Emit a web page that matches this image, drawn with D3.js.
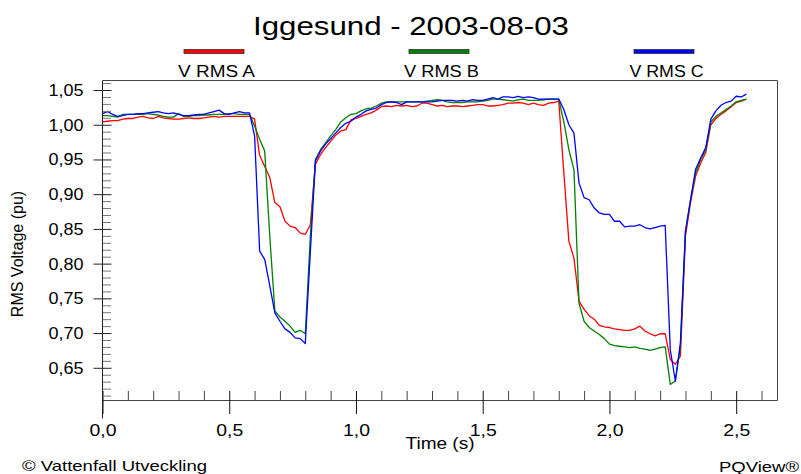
<!DOCTYPE html>
<html><head><meta charset="utf-8">
<script src="https://cdn.jsdelivr.net/npm/d3@7"></script>
<style>
body{margin:0;background:#fff}
svg{display:block}
text{font-family:"Liberation Sans",Arial,Helvetica,sans-serif;fill:#000}
</style>
</head><body>
<svg id="c" width="801" height="474"></svg>
<script>
// ---- data ----
const titleText = "Iggesund - 2003-08-03";
const xLabel = "Time (s)";
const yLabel = "RMS Voltage (pu)";
const seriesNames = ["V RMS A", "V RMS B", "V RMS C"];
const seriesColors = ["#ff0000", "#008000", "#0000ff"];
const xTicks = [0, 0.5, 1.0, 1.5, 2.0, 2.5];
const xTickLabels = ["0,0", "0,5", "1,0", "1,5", "2,0", "2,5"];
const yTicks = [0.65, 0.70, 0.75, 0.80, 0.85, 0.90, 0.95, 1.00, 1.05];
const yTickLabels = ["0,65", "0,70", "0,75", "0,80", "0,85", "0,90", "0,95", "1,00", "1,05"];
const xMinor = [0.1,0.2,0.3,0.4,0.6,0.7,0.8,0.9,1.1,1.2,1.3,1.4,1.6,1.7,1.8,1.9,2.1,2.2,2.3,2.4,2.6];
const yMinor = [0.61,0.62,0.63,0.64,0.66,0.67,0.68,0.69,0.71,0.72,0.73,0.74,0.76,0.77,0.78,0.79,0.81,0.82,0.83,0.84,0.86,0.87,0.88,0.89,0.91,0.92,0.93,0.94,0.96,0.97,0.98,0.99,1.01,1.02,1.03,1.04,1.06];

const times = [0.00,0.02,0.04,0.06,0.08,0.10,0.12,0.14,0.16,0.18,0.20,0.22,0.24,0.26,0.28,0.30,0.32,0.34,0.36,0.38,0.40,0.42,0.44,0.46,0.48,0.50,0.52,0.54,0.56,
0.58,0.60,0.62,0.64,0.66,0.68,0.70,0.72,0.74,0.76,0.78,0.80,0.82,0.84,
0.86,0.88,0.90,0.92,0.94,0.96,0.98,1.00,1.02,1.04,1.06,1.08,1.10,1.12,1.14,1.16,
1.18,1.20,1.22,1.24,1.26,1.28,1.30,1.32,1.34,1.36,1.38,1.40,1.42,1.44,1.46,1.48,1.50,1.52,1.54,1.56,1.58,1.60,1.62,1.64,1.66,1.68,1.70,1.72,1.74,1.76,1.78,
1.80,1.82,1.84,1.86,1.88,1.90,1.92,1.94,1.96,1.98,2.00,2.02,2.04,2.06,2.08,2.10,2.12,2.14,2.16,2.18,2.20,2.22,2.24,2.26,2.28,2.30,2.32,2.34,2.36,2.38,2.40,2.42,2.44,2.46,2.48,2.50,2.52,2.54];

const vA = [1.004,1.005,1.006,1.006,1.008,1.009,1.009,1.011,1.012,1.010,1.009,1.012,1.010,1.009,1.008,1.008,1.009,1.010,1.009,1.009,1.010,1.011,1.012,1.011,1.012,1.012,1.012,1.012,1.012,
1.012,1.008,0.956,0.940,0.924,0.888,0.882,0.861,0.854,0.852,0.844,0.842,0.856,0.943,
0.957,0.967,0.976,0.985,0.991,0.993,1.007,1.009,1.012,1.015,1.017,1.021,1.026,1.027,1.026,1.028,
1.027,1.028,1.026,1.027,1.031,1.031,1.029,1.027,1.028,1.026,1.027,1.027,1.026,1.027,1.028,1.029,1.029,1.027,1.027,1.028,1.029,1.031,1.031,1.032,1.031,1.029,1.031,1.029,1.028,1.031,1.032,
1.034,0.931,0.832,0.808,0.746,0.734,0.725,0.720,0.711,0.709,0.708,0.706,0.705,0.704,0.704,0.706,0.710,0.703,0.699,0.696,0.699,0.699,0.662,0.655,0.667,0.840,0.888,0.926,0.945,0.960,1.000,1.009,1.015,1.020,1.026,1.032,1.034,1.037];

const vB = [1.013,1.013,1.012,1.011,1.015,1.015,1.015,1.015,1.015,1.016,1.015,1.014,1.012,1.011,1.011,1.016,1.012,1.012,1.013,1.013,1.014,1.014,1.015,1.015,1.015,1.016,1.016,1.015,1.015,
1.015,0.998,0.979,0.962,0.839,0.732,0.723,0.717,0.710,0.701,0.704,0.699,0.840,0.950,
0.964,0.974,0.984,0.993,1.004,1.010,1.015,1.016,1.020,1.023,1.024,1.027,1.031,1.033,1.033,1.033,
1.033,1.033,1.033,1.033,1.033,1.034,1.035,1.036,1.035,1.033,1.032,1.032,1.032,1.033,1.033,1.033,1.034,1.035,1.037,1.037,1.036,1.035,1.034,1.036,1.037,1.035,1.035,1.035,1.036,1.037,1.037,
1.037,1.004,0.964,0.935,0.743,0.717,0.708,0.703,0.698,0.692,0.684,0.682,0.681,0.680,0.679,0.680,0.678,0.677,0.675,0.677,0.679,0.680,0.626,0.631,0.681,0.847,0.892,0.931,0.950,0.964,1.004,1.012,1.017,1.022,1.027,1.033,1.035,1.037];

const vC = [1.016,1.019,1.015,1.012,1.013,1.015,1.015,1.016,1.016,1.017,1.018,1.019,1.017,1.016,1.017,1.015,1.013,1.013,1.014,1.015,1.015,1.017,1.019,1.021,1.016,1.015,1.017,1.019,1.017,
1.017,0.984,0.818,0.806,0.768,0.729,0.717,0.706,0.701,0.693,0.692,0.685,0.817,0.948,
0.962,0.972,0.980,0.988,0.996,1.002,1.005,1.011,1.015,1.020,1.022,1.024,1.029,1.032,1.033,1.032,
1.029,1.033,1.033,1.033,1.033,1.033,1.033,1.034,1.035,1.035,1.035,1.034,1.035,1.034,1.036,1.035,1.035,1.037,1.039,1.037,1.040,1.040,1.039,1.041,1.039,1.040,1.039,1.037,1.037,1.037,1.037,
1.037,1.022,1.000,0.988,0.916,0.895,0.892,0.880,0.873,0.871,0.871,0.861,0.861,0.853,0.854,0.854,0.856,0.852,0.850,0.852,0.854,0.855,0.676,0.631,0.686,0.847,0.892,0.936,0.952,0.967,1.008,1.020,1.028,1.032,1.034,1.041,1.040,1.044];

const seriesValues = [vA, vB, vC];

// ---- drawing ----
const svg = d3.select("#c");
const L = 102.5, R = 777.5, T = 80.5, B = 400.5;
const x = d3.scaleLinear().domain([0, 2.663]).range([L, R]);
const y = d3.scaleLinear().domain([0.6029, 1.0637]).range([B, T]);

function txt(g, px, py, s, size, anchor, width) {
  const t = g.append("text").attr("x", px).attr("y", py).attr("font-size", size)
    .attr("text-anchor", anchor).text(s);
  if (width) t.attr("textLength", width).attr("lengthAdjust", "spacingAndGlyphs");
  return t;
}

// title
txt(svg, 411, 35, titleText, 26, "middle", 316);

// legend
const legendCenters = [214, 439, 664];
const legendTextW = [77, 75, 74];
seriesNames.forEach((n, i) => {
  const cx = legendCenters[i];
  svg.append("rect").attr("x", cx - 30).attr("y", 49.5).attr("width", 60).attr("height", 4)
    .attr("fill", seriesColors[i]).attr("stroke", "#333").attr("stroke-width", 0.8);
  txt(svg, cx + 2.5, 76.5, n, 16, "middle", legendTextW[i]);
});

// lines
const plot = svg.append("g");
seriesValues.forEach((vals, i) => {
  const pts = times.map((t, j) => [t, vals[j]]);
  plot.append("path").datum(pts)
    .attr("fill", "none").attr("stroke", seriesColors[i]).attr("stroke-width", 1.3)
    .attr("stroke-linejoin", "round")
    .attr("d", d3.line().x(d => x(d[0])).y(d => y(d[1])));
});

// frame (top & right)
svg.append("path").attr("d", `M${L},${T}H${R}V${B}`).attr("fill", "none")
  .attr("stroke", "#444").attr("stroke-width", 1);

// x axis minor
const gxm = svg.append("g").attr("transform", `translate(0,${B})`)
  .call(d3.axisBottom(x).tickValues(xMinor).tickSize(-9.5).tickFormat(""));
gxm.select(".domain").remove();
gxm.selectAll("line").attr("stroke", "#444");

// x axis major
const gx = svg.append("g").attr("transform", `translate(0,${B})`)
  .call(d3.axisBottom(x).tickValues(xTicks).tickFormat((d, i) => xTickLabels[i]));
gx.select(".domain").attr("d", `M${L},0H${R}`).attr("stroke", "#444");
gx.selectAll(".tick line").attr("y1", -9.5).attr("y2", 13.5).attr("stroke", "#111");
gx.selectAll(".tick text").attr("y", 35.5).attr("dy", null).attr("font-size", 16)
  .attr("font-family", null).attr("textLength", 27).attr("lengthAdjust", "spacingAndGlyphs");
gx.attr("font-family", null).attr("font-size", null);

// y axis minor
const gym = svg.append("g").attr("transform", `translate(${L},0)`)
  .call(d3.axisLeft(y).tickValues(yMinor).tickSize(-8.5).tickFormat(""));
gym.select(".domain").remove();
gym.selectAll("line").attr("stroke", "#777");

// y axis major
const gy = svg.append("g").attr("transform", `translate(${L},0)`)
  .call(d3.axisLeft(y).tickValues(yTicks).tickFormat((d, i) => yTickLabels[i]));
gy.select(".domain").attr("d", `M0,${T}V${B + 18}`).attr("stroke", "#222");
gy.selectAll(".tick line").attr("x1", 9).attr("x2", -9).attr("stroke", "#222");
gy.selectAll(".tick text").attr("x", -19).attr("dy", null).attr("y", 5.5).attr("font-size", 16)
  .attr("textLength", 35).attr("lengthAdjust", "spacingAndGlyphs");
gy.attr("font-family", null).attr("font-size", null);

// axis titles
txt(svg, 440, 449, xLabel, 16, "middle", 69);
svg.append("text").attr("transform", "translate(23,254) rotate(-90)")
  .attr("text-anchor", "middle").attr("font-size", 16).text(yLabel);

// footer
txt(svg, 22, 471, "© Vattenfall Utveckling", 15, "start", 185);
txt(svg, 799, 472, "PQView®", 15, "end", 80);
</script>
</body></html>
